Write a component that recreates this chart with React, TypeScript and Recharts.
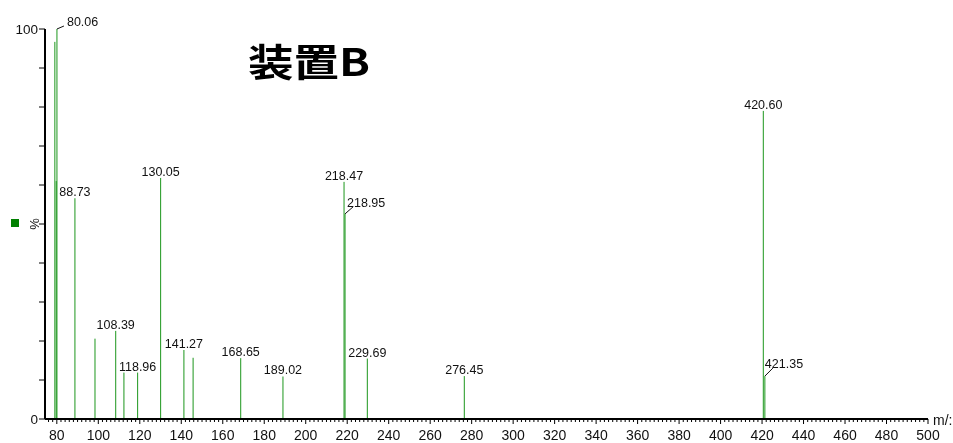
import { ComposedChart, Scatter, ErrorBar, XAxis, YAxis } from "recharts";

// m/z of each peak and its relative intensity (%)
const mzValues = [79.05, 79.7, 80.06, 88.73, 98.4, 108.39, 112.35, 118.96, 130.05, 141.27, 145.7, 168.65, 189.02, 218.47, 218.95, 229.69, 276.45, 420.6, 421.35];
const intensities = [96.7, 61.0, 100, 56.6, 20.6, 22.6, 11.9, 11.9, 61.8, 17.7, 15.7, 15.6, 10.9, 60.8, 52.6, 15.5, 11.0, 79.0, 11.0];
const labeledPeaks = [80.06, 88.73, 108.39, 118.96, 130.05, 141.27, 168.65, 189.02, 218.47, 218.95, 229.69, 276.45, 420.6, 421.35];

const xLabelTicks = [80, 100, 120, 140, 160, 180, 200, 220, 240, 260, 280, 300, 320, 340, 360, 380, 400, 420, 440, 460, 480, 500];
const xMinorTicks = Array.from({ length: 213 }, (_, i) => 76 + i * 2);
const yTicks = [0, 10, 20, 30, 40, 50, 60, 70, 80, 90, 100];
const yLabelTicks = [0, 100];

const title = "装置B";
const xUnit = "m/:";
const yUnit = "%";

// each stick runs from the peak top down to 0 (error bar [below, above])
const peaks = mzValues.map((mz, i) => ({
  mz,
  intensity: intensities[i],
  stick: [intensities[i], 0],
  label: labeledPeaks.includes(mz) ? mz.toFixed(2) : "",
}));

// labels pushed to the side with a short leader: [leaderDx, leaderDy, textDx, textDy]
const callouts: Record<string, [number, number, number, number]> = {
  "80.06": [7, 3, 10, 3],
  "218.95": [8, 7, 2, 7],
  "421.35": [8, 8, 0, 8],
};

const SANS = '"Liberation Sans", Arial, sans-serif';
const GREEN = "#008000";
const STICK = "#1c961c";

const PeakLabel = (props: any) => {
  const { cx, cy, payload } = props;
  const label: string = payload?.label ?? "";
  if (!label) return <g />;
  const c = callouts[label];
  if (c) {
    return (
      <g>
        <line x1={cx} y1={cy} x2={cx + c[0]} y2={cy - c[1]} stroke="#111" strokeWidth={1} />
        <text x={cx + c[2]} y={cy - c[3]} textAnchor="start" fontSize={12.5} fontFamily={SANS} fill="#111">
          {label}
        </text>
      </g>
    );
  }
  return (
    <text x={cx} y={cy - 2} textAnchor="middle" fontSize={12.5} fontFamily={SANS} fill="#111">
      {label}
    </text>
  );
};

const XTick = (props: any) => {
  const { x, y, payload } = props;
  const v = payload.value;
  const major = xLabelTicks.includes(v);
  return (
    <g>
      <line x1={x} x2={x} y1={y} y2={y + (major ? 5 : 3)} stroke="#000" strokeWidth={1} />
      {major && (
        <text x={x} y={y + 21} textAnchor="middle" fontSize={14} fontFamily={SANS} fill="#111">
          {v}
        </text>
      )}
    </g>
  );
};

const YTick = (props: any) => {
  const { x, y, payload } = props;
  const v = payload.value;
  return (
    <g>
      <line x1={x - 6} x2={x} y1={y} y2={y} stroke="#000" strokeWidth={1} />
      {yLabelTicks.includes(v) && (
        <text x={x - 7} y={y + 5} textAnchor="end" fontSize={13.5} fontFamily={SANS} fill="#111">
          {v}
        </text>
      )}
    </g>
  );
};

export default function App() {
  return (
    <div style={{ position: "fixed", left: 8, top: 8, width: 945, height: 435 }}>
      <ComposedChart width={945} height={435} data={peaks} margin={{ top: 21, right: 25, bottom: 0, left: 0 }}>
        <XAxis
          dataKey="mz"
          type="number"
          domain={[74.3, 500]}
          ticks={xMinorTicks}
          interval={0}
          tickSize={0}
          tickMargin={0}
          tickLine={false}
          tick={<XTick />}
          height={24}
          axisLine={{ stroke: "#000", strokeWidth: 2 }}
        />
        <YAxis
          type="number"
          domain={[0, 100]}
          ticks={yTicks}
          interval={0}
          tickSize={0}
          tickMargin={0}
          tickLine={false}
          tick={<YTick />}
          width={37}
          axisLine={{ stroke: "#000", strokeWidth: 2 }}
        />
        <Scatter dataKey="intensity" shape={<PeakLabel />} isAnimationActive={false}>
          <ErrorBar dataKey="stick" direction="y" width={0} stroke={STICK} strokeWidth={1} isAnimationActive={false} />
        </Scatter>
      </ComposedChart>
      <svg width={945} height={435} style={{ position: "absolute", left: 0, top: 0, pointerEvents: "none", overflow: "visible" }}>
        <text
          x={240}
          y={68}
          fontSize={38}
          fontWeight="bold"
          fontFamily='"Noto Sans CJK JP", sans-serif'
          textLength={122}
          lengthAdjust="spacingAndGlyphs"
          fill="#000"
        >
          {title}
        </text>
        <rect x={3} y={211} width={8} height={8} fill={GREEN} />
        <text transform="translate(30.5,216) rotate(-90)" textAnchor="middle" fontSize={13} fontFamily={SANS} fill="#111">
          {yUnit}
        </text>
        <text x={925} y={417} fontSize={14} fontFamily={SANS} fill="#111">
          {xUnit}
        </text>
      </svg>
    </div>
  );
}
